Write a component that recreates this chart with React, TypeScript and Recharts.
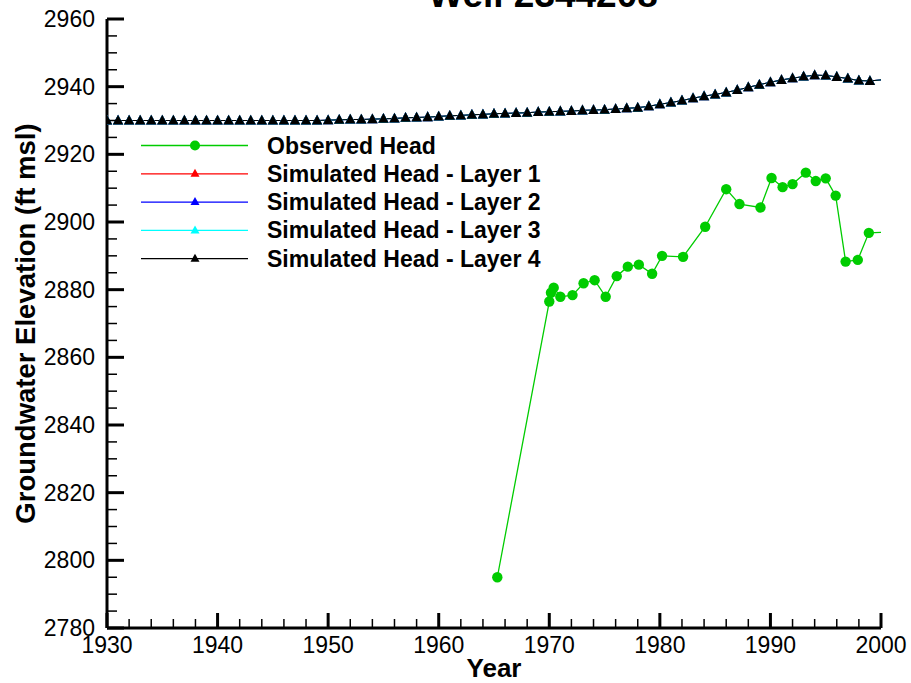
import { Legend, Line, LineChart, XAxis, YAxis } from 'recharts'

// observed water levels (irregular dates, decimal years)
const obsYears = [
  1965.3, 1970.0, 1970.15, 1970.4, 1971.0, 1972.1, 1973.1, 1974.1, 1975.1, 1976.1,
  1977.1, 1978.1, 1979.3, 1980.2, 1982.1, 1984.1, 1986.0, 1987.2, 1989.1, 1990.1,
  1991.1, 1992.0, 1993.2, 1994.1, 1995.0, 1995.9, 1996.8, 1997.9, 1998.9, 2001.0,
]
const obsHead = [
  2795, 2876.5, 2879.1, 2880.6, 2877.9, 2878.4, 2881.9, 2882.8, 2877.9, 2884.0,
  2886.8, 2887.4, 2884.7, 2890.0, 2889.7, 2898.6, 2909.7, 2905.3, 2904.3, 2913.0,
  2910.3, 2911.2, 2914.6, 2912.1, 2912.9, 2907.8, 2888.3, 2888.8, 2896.8, 2897.0,
]

// simulated heads, one value per year 1930..2000
const simYears = Array.from({ length: 71 }, (_, i) => 1930 + i)
const simLayer4 = [
  2930.0, 2930.0, 2930.0, 2930.0, 2930.0, 2930.0, 2930.0, 2930.0, 2930.0, 2930.0,
  2930.0, 2930.0, 2930.0, 2930.0, 2930.0, 2930.0, 2930.0, 2930.0, 2930.0, 2930.0,
  2930.1, 2930.2, 2930.3, 2930.3, 2930.4, 2930.5, 2930.6, 2930.8, 2930.9, 2931.0,
  2931.2, 2931.4, 2931.5, 2931.7, 2931.8, 2932.0, 2932.1, 2932.2, 2932.3, 2932.5,
  2932.6, 2932.7, 2932.8, 2933.0, 2933.1, 2933.2, 2933.4, 2933.6, 2933.8, 2934.2,
  2934.8, 2935.3, 2935.9, 2936.6, 2937.2, 2937.7, 2938.3, 2939.0, 2939.8, 2940.6,
  2941.3, 2942.0, 2942.5, 2943.0, 2943.4, 2943.3, 2942.9, 2942.4, 2941.8, 2941.7,
  2942.0,
]
// layers 1-3 plot on top of each other under layer 4
const simLayer1 = simLayer4
const simLayer2 = simLayer4
const simLayer3 = simLayer4

const xTicks = Array.from({ length: 36 }, (_, i) => 1930 + i * 2)
const yTicks = Array.from({ length: 37 }, (_, i) => 2780 + i * 5)

const seriesNames = [
  'Observed Head',
  'Simulated Head - Layer 1',
  'Simulated Head - Layer 2',
  'Simulated Head - Layer 3',
  'Simulated Head - Layer 4',
]
const seriesColors = ['#00cc00', '#ff0000', '#0000ff', '#00ffff', '#000000']

const obsData = obsYears.map((year, i) => ({ year, head: obsHead[i] }))
const simData = (vals: number[]) => simYears.map((year, i) => ({ year, head: vals[i] }))

const FONT = 'Arial, "Liberation Sans", Helvetica, sans-serif'

const XTick = (p: any) => {
  const v = p.payload.value
  const major = v % 10 === 0
  return (
    <g>
      <line x1={p.x} x2={p.x} y1={p.y} y2={p.y - (major ? 15 : 9)} stroke="#000" strokeWidth={major ? 3 : 1.5} />
      {major && (
        <text x={p.x} y={p.y + 25} textAnchor="middle" fontSize={23} fontFamily={FONT} fill="#000">
          {v}
        </text>
      )}
    </g>
  )
}

const YTick = (p: any) => {
  const v = p.payload.value
  const major = v % 20 === 0
  return (
    <g>
      <line x1={p.x} x2={p.x + (major ? 17 : 10)} y1={p.y} y2={p.y} stroke="#000" strokeWidth={major ? 3 : 1.5} />
      {major && (
        <text x={p.x - 12} y={p.y + 8} textAnchor="end" fontSize={23} fontFamily={FONT} fill="#000">
          {v}
        </text>
      )}
    </g>
  )
}

const triangle = (color: string, size = 1.15) => (p: any) => {
  if (p.payload.year >= 2000) return <g key={p.index} />
  return (
    <polygon
      key={p.index}
      points={`${p.cx},${p.cy - 5 * size} ${p.cx - 4.5 * size},${p.cy + 3.5 * size} ${p.cx + 4.5 * size},${p.cy + 3.5 * size}`}
      fill={color}
    />
  )
}

const circle = (p: any) => {
  if (p.payload.year >= 2000) return <g key={p.index} />
  return <circle key={p.index} cx={p.cx} cy={p.cy} r={5.2} fill={seriesColors[0]} />
}

const LegendBox = () => (
  <svg width={460} height={150}>
    {seriesNames.map((name, i) => {
      const cy = 17.5 + i * 28.3
      return (
        <g key={name}>
          <line x1={11} x2={118} y1={cy} y2={cy} stroke={seriesColors[i]} strokeWidth={1.3} />
          {i === 0 ? (
            <circle cx={65} cy={cy} r={5} fill={seriesColors[0]} />
          ) : (
            <polygon points={`65,${cy - 5} 60.5,${cy + 3} 69.5,${cy + 3}`} fill={seriesColors[i]} />
          )}
          <text x={137} y={cy + 8} fontSize={23} fontWeight="bold" fontFamily={FONT} fill="#000">
            {name}
          </text>
        </g>
      )
    })}
  </svg>
)

export default function App() {
  return (
    <div style={{ position: 'absolute', left: 0, top: 0, width: 911, height: 683, background: '#fff', overflow: 'hidden' }}>
      <LineChart width={911} height={683} margin={{ top: 19, right: 30, bottom: 0, left: 0 }}>
        <text x={543} y={7} textAnchor="middle" fontSize={37} fontWeight="bold" fontFamily={FONT} fill="#000">
          Well 2344208
        </text>
        <XAxis
          type="number"
          dataKey="year"
          domain={[1930, 2000]}
          ticks={xTicks}
          interval={0}
          allowDataOverflow
          height={55}
          tickSize={0}
          tickMargin={0}
          tickLine={false}
          axisLine={{ stroke: '#000', strokeWidth: 3 }}
          tick={XTick}
          label={{
            value: 'Year',
            position: 'insideBottom',
            offset: 6,
            style: { fontSize: 26, fontWeight: 'bold', fontFamily: FONT, fill: '#000' },
          }}
        />
        <YAxis
          type="number"
          domain={[2780, 2960]}
          ticks={yTicks}
          interval={0}
          allowDataOverflow
          width={107}
          tickSize={0}
          tickMargin={0}
          tickLine={false}
          axisLine={{ stroke: '#000', strokeWidth: 3 }}
          tick={YTick}
          label={{
            content: (lp: any) => {
              const vb = lp.viewBox
              const cx = vb.x + 25
              const cy = vb.y + vb.height / 2
              return (
                <text
                  x={cx}
                  y={cy}
                  transform={`rotate(-90, ${cx}, ${cy})`}
                  textAnchor="middle"
                  dominantBaseline="central"
                  fontSize={27.5}
                  fontWeight="bold"
                  fontFamily={FONT}
                  fill="#000"
                >
                  Groundwater Elevation (ft msl)
                </text>
              )
            },
          }}
        />
        <Legend
          layout="vertical"
          align="center"
          verticalAlign="middle"
          content={LegendBox}
          wrapperStyle={{ left: 130, top: 128, width: 460 }}
        />
        <Line data={simData(simLayer1)} dataKey="head" stroke={seriesColors[1]} strokeWidth={1} dot={triangle(seriesColors[1])} isAnimationActive={false} />
        <Line data={simData(simLayer2)} dataKey="head" stroke={seriesColors[2]} strokeWidth={1} dot={triangle(seriesColors[2])} isAnimationActive={false} />
        <Line data={simData(simLayer3)} dataKey="head" stroke={seriesColors[3]} strokeWidth={1} dot={triangle(seriesColors[3])} isAnimationActive={false} />
        <Line data={simData(simLayer4)} dataKey="head" stroke={seriesColors[4]} strokeWidth={1} dot={triangle(seriesColors[4])} isAnimationActive={false} />
        <Line data={obsData} dataKey="head" stroke={seriesColors[0]} strokeWidth={1.3} dot={circle} isAnimationActive={false} />
      </LineChart>
    </div>
  )
}
